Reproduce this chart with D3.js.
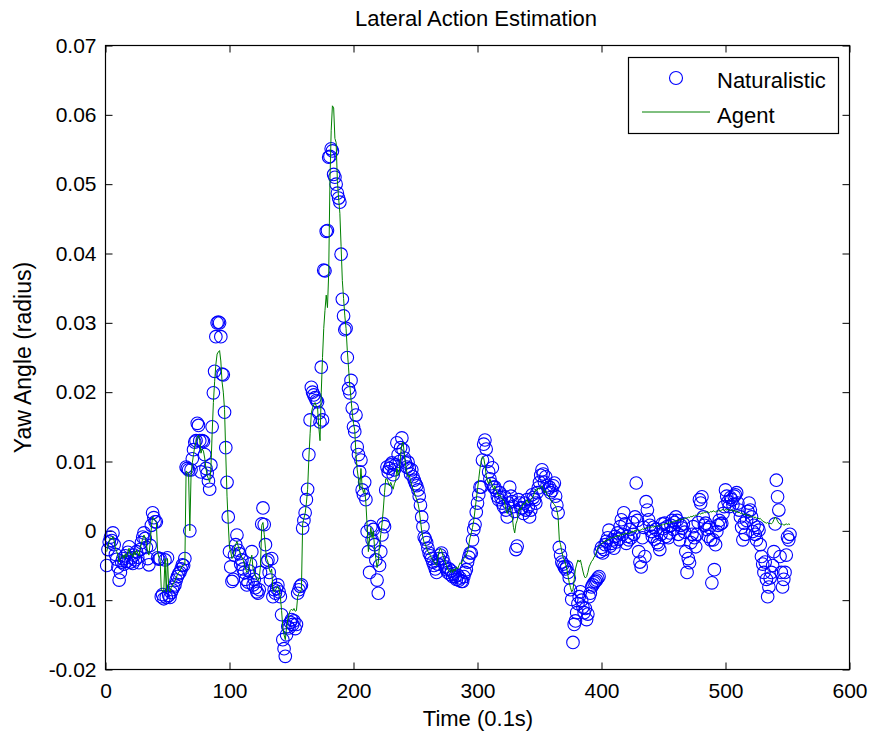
<!DOCTYPE html>
<html>
<head>
<meta charset="utf-8">
<script src="https://cdn.jsdelivr.net/npm/d3@7"></script>
<style>
  body { margin: 0; background: #fff; }
  text { font-family: "Liberation Sans", Arial, Helvetica, sans-serif; fill: #000; }
</style>
</head>
<body>
<svg id="chart" width="873" height="742"></svg>
<script>
// Labels
const chartTitle = "Lateral Action Estimation";
const xLabel = "Time (0.1s)";
const yLabel = "Yaw Angle (radius)";
const seriesNames = ["Naturalistic", "Agent"];

// Axis ticks
const xTicks = [0, 100, 200, 300, 400, 500, 600];
const yTicks = [-0.02, -0.01, 0, 0.01, 0.02, 0.03, 0.04, 0.05, 0.06, 0.07];

// Observed yaw angle, one value per 0.1 s step starting at step 1
const naturalistic = [
  -0.0050, -0.0027, -0.0016, -0.0009, -0.0014, -0.0003, -0.0020, -0.0034, -0.0041, -0.0052,
  -0.0071, -0.0060, -0.0045, -0.0040, -0.0048, -0.0036, -0.0044, -0.0031, -0.0023, -0.0045,
  -0.0039, -0.0047, -0.0035, -0.0042, -0.0030, -0.0038, -0.0046, -0.0027, -0.0017, -0.0009,
  -0.0003, -0.0011, -0.0024, -0.0040, -0.0049, -0.0021, 0.0008, 0.0026, 0.0019, 0.0013,
  0.0013, -0.0039, -0.0041, -0.0040, -0.0095, -0.0092, -0.0098, -0.0042, -0.0096, -0.0039,
  -0.0093, -0.0096, -0.0089, -0.0085, -0.0081, -0.0078, -0.0071, -0.0066, -0.0062, -0.0060,
  -0.0055, -0.0049, -0.0050, -0.0040, 0.0092, 0.0090, 0.0088, 0.0000, 0.0088, 0.0104,
  0.0117, 0.0128, 0.0130, 0.0155, 0.0152, 0.0130, 0.0085, 0.0130, 0.0129, 0.0110,
  0.0090, 0.0083, 0.0072, 0.0060, 0.0095, 0.0150, 0.0199, 0.0230, 0.0280, 0.0300,
  0.0301, 0.0300, 0.0280, 0.0226, 0.0225, 0.0171, 0.0120, 0.0070, 0.0020, -0.0030,
  -0.0052, -0.0073, -0.0070, -0.0035, -0.0020, -0.0006, -0.0028, -0.0033, -0.0048, -0.0042,
  -0.0055, -0.0060, -0.0070, -0.0078, -0.0074, -0.0058, -0.0048, -0.0030, -0.0078, -0.0070,
  -0.0082, -0.0088, -0.0090, -0.0085, -0.0060, 0.0010, 0.0033, 0.0009, -0.0020, -0.0045,
  -0.0042, -0.0060, -0.0071, -0.0040, -0.0095, -0.0085, -0.0090, -0.0083, -0.0078, -0.0088,
  -0.0095, -0.0121, -0.0157, -0.0170, -0.0181, -0.0150, -0.0138, -0.0140, -0.0132, -0.0128,
  -0.0135, -0.0130, -0.0141, -0.0135, -0.0090, -0.0085, -0.0080, -0.0078, 0.0004, 0.0015,
  0.0026, 0.0045, 0.0060, 0.0110, 0.0160, 0.0207, 0.0200, 0.0196, 0.0192, 0.0188,
  0.0186, 0.0170, 0.0157, 0.0236, 0.0160, 0.0376, 0.0375, 0.0432, 0.0433, 0.0539,
  0.0540, 0.0551, 0.0548, 0.0514, 0.0510, 0.0500, 0.0487, 0.0480, 0.0474, 0.0399,
  0.0334, 0.0310, 0.0290, 0.0292, 0.0250, 0.0205, 0.0199, 0.0217, 0.0177, 0.0150,
  0.0143, 0.0167, 0.0121, 0.0110, 0.0085, 0.0102, 0.0059, 0.0052, 0.0070, 0.0045,
  -0.0001, -0.0030, -0.0060, 0.0006, -0.0013, 0.0002, -0.0020, -0.0042, -0.0071, -0.0090,
  -0.0050, -0.0030, -0.0006, 0.0010, 0.0006, 0.0059, 0.0092, 0.0085, 0.0090, 0.0095,
  0.0098, 0.0081, 0.0088, 0.0095, 0.0127, 0.0110, 0.0100, 0.0120, 0.0134, 0.0117,
  0.0105, 0.0098, 0.0092, 0.0099, 0.0090, 0.0082, 0.0088, 0.0078, 0.0073, 0.0068,
  0.0065, 0.0059, 0.0050, 0.0037, 0.0020, 0.0006, -0.0009, -0.0012, -0.0017, -0.0025,
  -0.0032, -0.0036, -0.0040, -0.0045, -0.0050, -0.0055, -0.0060, -0.0048, -0.0040, -0.0035,
  -0.0032, -0.0040, -0.0046, -0.0052, -0.0056, -0.0060, -0.0055, -0.0063, -0.0058, -0.0066,
  -0.0062, -0.0066, -0.0070, -0.0064, -0.0071, -0.0068, -0.0073, -0.0073, -0.0066, -0.0060,
  -0.0056, -0.0045, -0.0038, -0.0032, -0.0032, -0.0013, 0.0002, 0.0009, 0.0027, 0.0040,
  0.0052, 0.0063, 0.0063, 0.0102, 0.0125, 0.0131, 0.0118, 0.0100, 0.0085, 0.0075,
  0.0068, 0.0091, 0.0063, 0.0063, 0.0058, 0.0050, 0.0045, 0.0055, 0.0048, 0.0040,
  0.0035, 0.0049, 0.0030, 0.0020, 0.0040, 0.0063, 0.0050, 0.0042, 0.0035, 0.0028,
  -0.0027, -0.0022, 0.0045, 0.0040, 0.0033, 0.0033, 0.0025, 0.0040, 0.0030, 0.0045,
  0.0035, 0.0020, 0.0030, 0.0052, 0.0048, 0.0045, 0.0040, 0.0055, 0.0062, 0.0070,
  0.0080, 0.0088, 0.0082, 0.0070, 0.0078, 0.0065, 0.0060, 0.0063, 0.0055, 0.0058,
  0.0065, 0.0069, 0.0050, 0.0037, 0.0026, -0.0024, -0.0035, -0.0045, -0.0048, -0.0052,
  -0.0055, -0.0052, -0.0060, -0.0068, -0.0085, -0.0099, -0.0161, -0.0135, -0.0130, -0.0118,
  -0.0105, -0.0095, -0.0088, -0.0100, -0.0110, -0.0118, -0.0112, -0.0128, -0.0120, -0.0095,
  -0.0090, -0.0081, -0.0078, -0.0075, -0.0073, -0.0071, -0.0068, -0.0066, -0.0030, -0.0024,
  -0.0032, -0.0027, -0.0020, -0.0015, -0.0010, 0.0001, -0.0022, -0.0018, -0.0013, -0.0025,
  -0.0008, -0.0016, -0.0003, -0.0012, 0.0006, 0.0016, -0.0005, 0.0026, 0.0010, -0.0018,
  -0.0008, -0.0013, 0.0002, -0.0010, 0.0012, -0.0005, 0.0020, 0.0069, 0.0015, -0.0030,
  -0.0045, -0.0052, -0.0010, 0.0005, -0.0037, 0.0042, 0.0030, 0.0016, 0.0008, -0.0001,
  -0.0008, 0.0005, -0.0012, 0.0002, -0.0017, -0.0020, -0.0027, -0.0005, 0.0010, 0.0003,
  0.0011, -0.0008, 0.0006, -0.0010, -0.0003, 0.0008, 0.0015, 0.0002, 0.0012, 0.0020,
  0.0015, -0.0005, -0.0013, 0.0008, 0.0004, 0.0010, -0.0002, -0.0030, -0.0060, -0.0040,
  -0.0046, -0.0017, -0.0005, 0.0006, -0.0010, -0.0023, -0.0005, 0.0012, 0.0045, 0.0040,
  0.0049, 0.0020, 0.0008, 0.0011, 0.0002, -0.0008, 0.0005, -0.0013, -0.0075, -0.0013,
  -0.0056, -0.0020, -0.0001, 0.0008, 0.0015, 0.0010, 0.0011, 0.0025, 0.0035, 0.0059,
  0.0050, 0.0042, 0.0035, 0.0048, 0.0045, 0.0038, 0.0050, 0.0052, 0.0055, 0.0040,
  0.0030, 0.0020, 0.0005, -0.0013, 0.0011, -0.0005, 0.0015, 0.0028, 0.0040, 0.0030,
  0.0020, -0.0001, 0.0008, -0.0005, -0.0013, 0.0005, 0.0001, -0.0020, -0.0037, -0.0048,
  -0.0060, -0.0045, -0.0070, -0.0095, -0.0081, -0.0068, -0.0060, -0.0050, -0.0030, 0.0010,
  0.0073, 0.0049, 0.0030, -0.0037, -0.0060, -0.0081, -0.0070, -0.0060, -0.0035, -0.0009,
  -0.0013, -0.0005
];

// Agent-estimated yaw angle at the same steps
const agent = [
  -0.0030, -0.0022, -0.0015, -0.0010, -0.0012, -0.0008, -0.0015, -0.0025, -0.0030, -0.0035,
  -0.0045, -0.0040, -0.0038, -0.0035, -0.0040, -0.0033, -0.0038, -0.0030, -0.0025, -0.0035,
  -0.0033, -0.0038, -0.0030, -0.0035, -0.0028, -0.0032, -0.0036, -0.0025, -0.0018, -0.0012,
  -0.0006, -0.0010, -0.0020, -0.0030, -0.0035, -0.0018, 0.0005, 0.0020, 0.0018, 0.0015,
  0.0012, -0.0030, -0.0038, -0.0040, -0.0085, -0.0088, -0.0086, -0.0040, -0.0088, -0.0040,
  -0.0085, -0.0088, -0.0082, -0.0078, -0.0075, -0.0072, -0.0068, -0.0063, -0.0060, -0.0058,
  -0.0054, -0.0050, -0.0050, -0.0048, 0.0086, 0.0085, 0.0082, 0.0000, 0.0080, 0.0098,
  0.0110, 0.0122, 0.0128, 0.0135, 0.0138, 0.0130, 0.0112, 0.0118, 0.0115, 0.0105,
  0.0090, 0.0080, 0.0075, 0.0070, 0.0090, 0.0140, 0.0185, 0.0215, 0.0240, 0.0255,
  0.0258, 0.0260, 0.0245, 0.0215, 0.0200, 0.0175, 0.0110, 0.0050, 0.0010, -0.0025,
  -0.0030, -0.0040, -0.0038, -0.0025, -0.0020, -0.0015, -0.0022, -0.0028, -0.0035, -0.0038,
  -0.0042, -0.0048, -0.0055, -0.0060, -0.0058, -0.0050, -0.0042, -0.0035, -0.0055, -0.0060,
  -0.0065, -0.0070, -0.0072, -0.0068, -0.0050, 0.0008, 0.0012, -0.0005, -0.0025, -0.0040,
  -0.0045, -0.0055, -0.0060, -0.0055, -0.0085, -0.0088, -0.0086, -0.0082, -0.0080, -0.0085,
  -0.0095, -0.0115, -0.0140, -0.0150, -0.0157, -0.0140, -0.0128, -0.0120, -0.0115, -0.0113,
  -0.0115, -0.0112, -0.0116, -0.0115, -0.0095, -0.0090, -0.0088, -0.0085, 0.0010, 0.0018,
  0.0025, 0.0040, 0.0060, 0.0105, 0.0140, 0.0170, 0.0178, 0.0182, 0.0185, 0.0180,
  0.0178, 0.0150, 0.0130, 0.0200, 0.0250, 0.0292, 0.0318, 0.0340, 0.0322, 0.0371,
  0.0505, 0.0577, 0.0613, 0.0610, 0.0566, 0.0560, 0.0505, 0.0480, 0.0458, 0.0410,
  0.0361, 0.0335, 0.0310, 0.0292, 0.0260, 0.0235, 0.0210, 0.0190, 0.0170, 0.0155,
  0.0145, 0.0110, 0.0088, 0.0075, 0.0060, 0.0090, 0.0063, 0.0055, 0.0060, 0.0040,
  0.0007, -0.0030, -0.0010, 0.0005, -0.0010, 0.0000, -0.0025, -0.0040, -0.0053, -0.0045,
  -0.0020, -0.0005, 0.0010, 0.0030, 0.0055, 0.0075, 0.0075, 0.0070, 0.0065, 0.0070,
  0.0065, 0.0060, 0.0068, 0.0072, 0.0090, 0.0080, 0.0085, 0.0110, 0.0125, 0.0128,
  0.0110, 0.0095, 0.0085, 0.0078, 0.0080, 0.0072, 0.0066, 0.0060, 0.0055, 0.0050,
  0.0045, 0.0040, 0.0030, 0.0015, 0.0000, -0.0010, -0.0017, -0.0020, -0.0025, -0.0030,
  -0.0032, -0.0036, -0.0040, -0.0042, -0.0045, -0.0048, -0.0050, -0.0040, -0.0030, -0.0025,
  -0.0028, -0.0035, -0.0040, -0.0045, -0.0050, -0.0055, -0.0058, -0.0060, -0.0055, -0.0060,
  -0.0055, -0.0058, -0.0052, -0.0055, -0.0050, -0.0046, -0.0048, -0.0042, -0.0040, -0.0038,
  -0.0035, -0.0030, -0.0020, -0.0010, -0.0003, 0.0005, 0.0015, 0.0030, 0.0045, 0.0060,
  0.0075, 0.0090, 0.0100, 0.0107, 0.0105, 0.0095, 0.0080, 0.0072, 0.0068, 0.0075,
  0.0070, 0.0065, 0.0060, 0.0065, 0.0058, 0.0055, 0.0050, 0.0052, 0.0048, 0.0045,
  0.0045, 0.0040, 0.0030, 0.0025, 0.0030, 0.0035, 0.0028, 0.0020, 0.0005, -0.0003,
  0.0010, 0.0015, 0.0025, 0.0033, 0.0030, 0.0035, 0.0040, 0.0038, 0.0042, 0.0045,
  0.0040, 0.0042, 0.0045, 0.0047, 0.0050, 0.0055, 0.0060, 0.0058, 0.0062, 0.0060,
  0.0063, 0.0065, 0.0060, 0.0055, 0.0058, 0.0052, 0.0050, 0.0048, 0.0045, 0.0042,
  0.0040, 0.0038, 0.0035, 0.0030, 0.0020, -0.0013, -0.0020, -0.0030, -0.0038, -0.0042,
  -0.0048, -0.0055, -0.0065, -0.0075, -0.0082, -0.0088, -0.0085, -0.0070, -0.0055, -0.0048,
  -0.0042, -0.0045, -0.0042, -0.0050, -0.0058, -0.0065, -0.0068, -0.0066, -0.0060, -0.0052,
  -0.0048, -0.0044, -0.0042, -0.0038, -0.0035, -0.0030, -0.0025, -0.0022, -0.0020, -0.0018,
  -0.0017, -0.0016, -0.0014, -0.0015, -0.0012, -0.0013, -0.0010, -0.0011, -0.0009, -0.0010,
  -0.0008, -0.0009, -0.0006, -0.0008, -0.0005, -0.0007, -0.0004, -0.0006, -0.0003, -0.0004,
  -0.0003, -0.0005, -0.0002, -0.0003, 0.0000, -0.0002, 0.0001, -0.0001, 0.0002, 0.0000,
  0.0001, 0.0001, 0.0003, 0.0002, 0.0004, 0.0003, 0.0005, 0.0004, 0.0006, 0.0005,
  0.0006, 0.0005, 0.0007, 0.0006, 0.0008, 0.0006, 0.0007, 0.0009, 0.0008, 0.0010,
  0.0009, 0.0011, 0.0010, 0.0012, 0.0011, 0.0013, 0.0012, 0.0014, 0.0013, 0.0015,
  0.0014, 0.0016, 0.0015, 0.0017, 0.0016, 0.0018, 0.0017, 0.0019, 0.0018, 0.0020,
  0.0019, 0.0021, 0.0020, 0.0022, 0.0021, 0.0023, 0.0022, 0.0024, 0.0025, 0.0024,
  0.0026, 0.0025, 0.0027, 0.0026, 0.0028, 0.0027, 0.0026, 0.0028, 0.0027, 0.0029,
  0.0028, 0.0027, 0.0029, 0.0028, 0.0030, 0.0029, 0.0030, 0.0031, 0.0029, 0.0031,
  0.0030, 0.0031, 0.0030, 0.0029, 0.0031, 0.0028, 0.0030, 0.0027, 0.0029, 0.0026,
  0.0027, 0.0025, 0.0026, 0.0024, 0.0023, 0.0025, 0.0022, 0.0023, 0.0021, 0.0022,
  0.0020, 0.0021, 0.0019, 0.0020, 0.0018, 0.0019, 0.0017, 0.0018, 0.0016, 0.0014,
  0.0013, 0.0012, 0.0011, 0.0012, 0.0010, 0.0011, 0.0010, 0.0012, 0.0016, 0.0020,
  0.0018, 0.0014, 0.0011, 0.0010, 0.0009, 0.0010, 0.0008, 0.0009, 0.0010, 0.0009,
  0.0010, 0.0009
];

// Layout
const W = 873, H = 742;
const plot = { left: 105.5, right: 849.5, top: 45.5, bottom: 669.5 };
const tickLen = 7;
const TICK_FONT = 21;
const LABEL_FONT = 22;
const LEGEND_FONT = 22;

const svg = d3.select("#chart");
svg.append("rect").attr("width", W).attr("height", H).attr("fill", "#fff");

const x = d3.scaleLinear().domain([0, 600]).range([plot.left, plot.right]);
const y = d3.scaleLinear().domain([-0.02, 0.07]).range([plot.bottom, plot.top]);

const fmtY = d => (d === 0 ? "0" : d.toFixed(2));

// Axes: ticks point inward on all four sides, labels on left and bottom only
const gx = svg.append("g").attr("transform", `translate(0,${plot.bottom})`)
  .call(d3.axisBottom(x).tickValues(xTicks).tickSizeInner(-tickLen).tickSizeOuter(0).tickPadding(14).tickFormat(d3.format("d")));
const gy = svg.append("g").attr("transform", `translate(${plot.left},0)`)
  .call(d3.axisLeft(y).tickValues(yTicks).tickSizeInner(-tickLen).tickSizeOuter(0).tickPadding(9).tickFormat(fmtY));
const gt = svg.append("g").attr("transform", `translate(0,${plot.top})`)
  .call(d3.axisTop(x).tickValues(xTicks).tickSizeInner(-tickLen).tickSizeOuter(0).tickFormat(""));
const gr = svg.append("g").attr("transform", `translate(${plot.right},0)`)
  .call(d3.axisRight(y).tickValues(yTicks).tickSizeInner(-tickLen).tickSizeOuter(0).tickFormat(""));

[gx, gy, gt, gr].forEach(g => {
  g.select(".domain").remove();
  g.selectAll(".tick line").attr("stroke", "#000").attr("stroke-width", 1);
  g.selectAll(".tick text").attr("font-size", TICK_FONT).attr("fill", "#000")
    .attr("font-family", "\"Liberation Sans\", Arial, sans-serif");
});

// Data: circles for the naturalistic series, thin line for the agent
const steps = naturalistic.map((_, i) => i + 1);

svg.append("g").selectAll("circle")
  .data(naturalistic)
  .join("circle")
  .attr("cx", (d, i) => x(steps[i]))
  .attr("cy", d => y(d))
  .attr("r", 6.3)
  .attr("fill", "none")
  .attr("stroke", "#0000ff")
  .attr("stroke-width", 1.1);

const line = d3.line().x((d, i) => x(steps[i])).y(d => y(d));
svg.append("path")
  .datum(agent)
  .attr("d", line)
  .attr("fill", "none")
  .attr("stroke", "#008000")
  .attr("stroke-width", 1);

// Plot frame
svg.append("rect")
  .attr("x", plot.left).attr("y", plot.top)
  .attr("width", plot.right - plot.left).attr("height", plot.bottom - plot.top)
  .attr("fill", "none").attr("stroke", "#000").attr("stroke-width", 1.2);

// Title and axis labels
svg.append("text").attr("x", 476).attr("y", 26)
  .attr("text-anchor", "middle").attr("font-size", 22).text(chartTitle);
svg.append("text").attr("x", 478).attr("y", 726)
  .attr("text-anchor", "middle").attr("font-size", LABEL_FONT).text(xLabel);
svg.append("text").attr("transform", `translate(31,${(plot.top + plot.bottom) / 2}) rotate(-90)`)
  .attr("text-anchor", "middle").attr("font-size", 23).text(yLabel);

// Legend
const lg = svg.append("g");
lg.append("rect").attr("x", 628.5).attr("y", 57.5).attr("width", 210).attr("height", 76)
  .attr("fill", "#fff").attr("stroke", "#000").attr("stroke-width", 1.2);
lg.append("circle").attr("cx", 676).attr("cy", 78).attr("r", 6.5)
  .attr("fill", "none").attr("stroke", "#0000ff").attr("stroke-width", 1.1);
lg.append("line").attr("x1", 642).attr("x2", 710).attr("y1", 112).attr("y2", 112)
  .attr("stroke", "#008000").attr("stroke-width", 1);
lg.append("text").attr("x", 717).attr("y", 88).attr("font-size", LEGEND_FONT).text(seriesNames[0]);
lg.append("text").attr("x", 717).attr("y", 123).attr("font-size", LEGEND_FONT).text(seriesNames[1]);
</script>
</body>
</html>
